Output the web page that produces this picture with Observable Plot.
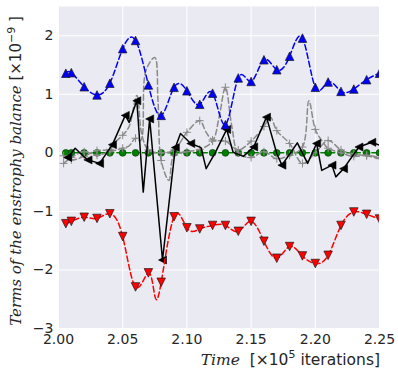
<!DOCTYPE html>
<html>
<head>
<meta charset="utf-8">
<script src="https://cdn.jsdelivr.net/npm/d3@7"></script>
<script src="https://cdn.jsdelivr.net/npm/@observablehq/plot@0.6"></script>
<style>
  body { margin: 0; background: #ffffff; }
  #chart svg { display: block; }
</style>
</head>
<body>
<div id="chart"></div>
<script>
// Sampled times (x 10^5 iterations) shared by the marker series
const times = [2.0057, 2.01, 2.02, 2.03, 2.04, 2.05, 2.06, 2.07, 2.08, 2.09, 2.10, 2.11, 2.12,
               2.13, 2.14, 2.15, 2.16, 2.17, 2.18, 2.19, 2.20, 2.21, 2.22, 2.23, 2.24, 2.25];

// Production term (blue), dissipation term (red), zero term (green)
const production = [1.36, 1.37, 1.13, 0.99, 1.19, 1.78, 1.92, 1.16, 0.64, 1.12, 1.06, 0.83, 1.02,
                    0.48, 1.28, 1.22, 1.59, 1.42, 1.65, 1.96, 1.12, 1.21, 1.05, 1.09, 1.25, 1.36];
const dissipation = [-1.21, -1.17, -1.10, -1.12, -1.04, -1.43, -2.29, -2.05, -2.21, -1.09, -1.28, -1.30, -1.24,
                     -1.24, -1.34, -1.17, -1.51, -1.80, -1.60, -1.76, -1.89, -1.75, -1.24, -1.01, -1.05, -1.13];
const zeroTerm = [0.00, 0.00, 0.00, 0.00, 0.00, 0.00, 0.00, 0.00, 0.00, 0.00, 0.00, 0.00, 0.00,
                  0.00, 0.00, 0.00, 0.00, 0.00, 0.00, 0.00, 0.00, 0.00, 0.00, 0.00, 0.00, 0.00];

// Unmarked in-between sample of the dissipation curve
const dissipationExtraT = [2.075];
const dissipationExtraV = [-2.44];

// Rate of change of enstrophy (black, solid)
const rateT = [2.0072, 2.013, 2.020, 2.023, 2.032, 2.042, 2.052, 2.055, 2.061, 2.066, 2.071, 2.081,
               2.091, 2.095, 2.103, 2.111, 2.115, 2.122, 2.131, 2.136, 2.144, 2.152, 2.162, 2.170,
               2.174, 2.181, 2.186, 2.194, 2.201, 2.205, 2.213, 2.216, 2.222, 2.234, 2.244, 2.25];
const rateV = [-0.08, 0.08, -0.07, -0.12, -0.18, 0.14, 0.64, 0.52, 0.89, -0.67, 0.58, -1.83,
               0.09, 0.33, 0.16, 0.09, -0.27, 0.00, 0.40, 0.01, -0.06, 0.10, 0.61, -0.01,
               -0.21, 0.01, 0.17, -0.18, 0.16, -0.30, -0.21, -0.41, -0.27, 0.10, 0.18, 0.13];
const rateMarked = [0, 3, 4, 5, 6, 8, 10, 11, 12, 14, 18, 21, 22, 24, 28, 30, 32, 33, 34];

// Transfer terms (grey, dashed)
const transferAT = [2.004, 2.01, 2.02, 2.03, 2.04, 2.05, 2.055, 2.06, 2.064, 2.068, 2.075, 2.0775, 2.08,
                    2.086, 2.09, 2.10, 2.11, 2.12, 2.125, 2.13, 2.135, 2.14, 2.15, 2.16, 2.17, 2.18,
                    2.19, 2.195, 2.20, 2.205, 2.21, 2.22, 2.23, 2.24, 2.25];
const transferAV = [-0.18, -0.08, 0.02, -0.04, 0.02, 0.08, 0.12, 0.25, 0.21, 1.40, 1.63, 0.89, -0.13,
                    -0.47, -0.04, 0.02, 0.06, 0.20, 0.60, 1.12, 0.45, 0.00, -0.08, 0.02, -0.10, -0.04,
                    0.10, 0.89, 0.40, 0.21, 0.08, 0.00, -0.06, -0.04, -0.08];
const transferBT = [2.004, 2.01, 2.02, 2.03, 2.04, 2.045, 2.05, 2.055, 2.061, 2.065, 2.07, 2.08, 2.09,
                    2.10, 2.11, 2.115, 2.12, 2.13, 2.14, 2.15, 2.16, 2.165, 2.17, 2.18, 2.19, 2.20,
                    2.21, 2.22, 2.23, 2.24, 2.25];
const transferBV = [-0.05, -0.12, -0.06, 0.04, 0.06, 0.20, 0.30, 0.45, 0.98, 0.30, 0.05, 0.00, 0.05,
                    0.35, 0.55, 0.35, 0.22, 0.20, 0.05, 0.20, 0.45, 0.61, 0.38, 0.16, -0.18, 0.00,
                    0.21, 0.05, -0.02, -0.05, -0.10];

// Axis ticks
const xTicks = [2.00, 2.05, 2.10, 2.15, 2.20, 2.25];
const yTicks = [-3, -2, -1, 0, 1, 2];

const rows = (ts, vs) => ts.map((t, i) => ({t, v: vs[i]}));
const onHundredth = d => Math.abs(d.t * 100 - Math.round(d.t * 100)) < 1e-6 || d.t === 2.004;

// Marker shapes with equal base and height, centred on their bounding box
const half = size => Math.sqrt(2 * size) / 2;
const triUp = {draw(c, size) { const s = half(size); c.moveTo(0, -s); c.lineTo(s, s); c.lineTo(-s, s); c.closePath(); }};
const triDown = {draw(c, size) { const s = half(size); c.moveTo(0, s); c.lineTo(-s, -s); c.lineTo(s, -s); c.closePath(); }};
const triLeft = {draw(c, size) { const s = half(size); c.moveTo(-s, 0); c.lineTo(s, -s); c.lineTo(s, s); c.closePath(); }};
const thinPlus = {draw(c, size) { const s = Math.sqrt(size / Math.PI) * 1.25; c.moveTo(-s, 0); c.lineTo(s, 0); c.moveTo(0, -s); c.lineTo(0, s); }};

const dash = "5.5,3";
const prod = rows(times, production);
const diss = rows(times, dissipation);
const dissLine = diss.concat(rows(dissipationExtraT, dissipationExtraV)).sort((a, b) => a.t - b.t);
const zero = rows(times, zeroTerm);
const rate = rows(rateT, rateV);
const trA = rows(transferAT, transferAV);
const trB = rows(transferBT, transferBV);

const chart = Plot.plot({
  width: 398,
  height: 368,
  marginLeft: 58,
  marginRight: 19,
  marginTop: 6,
  marginBottom: 40,
  x: {domain: [2.0, 2.25]},
  y: {domain: [-3, 2.5]},
  style: {fontFamily: "DejaVu Sans", fontSize: "14px", color: "#262626", background: "#ffffff"},
  marks: [
    Plot.frame({fill: "#EAEAF2", stroke: "none"}),
    Plot.gridX(xTicks, {stroke: "#ffffff", strokeOpacity: 1, strokeWidth: 1}),
    Plot.gridY(yTicks, {stroke: "#ffffff", strokeOpacity: 1, strokeWidth: 1}),
    Plot.axisX(xTicks, {tickSize: 0, tickPadding: 6, tickFormat: d => d.toFixed(2), label: null, fontSize: 14}),
    Plot.axisY(yTicks, {tickSize: 0, tickPadding: 5, tickFormat: d3.format("d"), label: null, fontSize: 14}),

    // zero term
    Plot.line(zero, {x: "t", y: "v", stroke: "#008000", strokeWidth: 1.5, strokeDasharray: dash, clip: true}),
    Plot.dot(zero, {x: "t", y: "v", r: 3.4, fill: "#008000", stroke: "#0b3d0b", strokeWidth: 0.7, clip: true}),

    // transfer terms
    Plot.line(trB, {x: "t", y: "v", curve: "catmull-rom", stroke: "#8a8a8a", strokeWidth: 1.5, strokeDasharray: dash, clip: true}),
    Plot.dot(trB.filter(onHundredth), {x: "t", y: "v", symbol: thinPlus, r: 3.2, fill: "none", stroke: "#8a8a8a", strokeWidth: 1, clip: true}),
    Plot.line(trA, {x: "t", y: "v", curve: "catmull-rom", stroke: "#8a8a8a", strokeWidth: 1.5, strokeDasharray: dash, clip: true}),
    Plot.dot(trA.filter(onHundredth), {x: "t", y: "v", symbol: thinPlus, r: 3.2, fill: "none", stroke: "#8a8a8a", strokeWidth: 1, clip: true}),

    // rate of change
    Plot.line(rate, {x: "t", y: "v", stroke: "#000000", strokeWidth: 1.5, clip: true}),
    Plot.dot(rateMarked.map(i => rate[i]), {x: "t", y: "v", symbol: triLeft, r: 3.2, fill: "#000000", stroke: "#000000", strokeWidth: 0.6, clip: true}),

    // production
    Plot.line(prod, {x: "t", y: "v", curve: "natural", stroke: "#0000ff", strokeWidth: 1.5, strokeDasharray: dash, clip: true}),
    Plot.dot(prod, {x: "t", y: "v", symbol: triUp, r: 3.4, fill: "#0000ff", stroke: "#1a1a1a", strokeWidth: 0.7, clip: true}),

    // dissipation
    Plot.line(dissLine, {x: "t", y: "v", curve: "natural", stroke: "#ff0000", strokeWidth: 1.5, strokeDasharray: dash, clip: true}),
    Plot.dot(diss, {x: "t", y: "v", symbol: triDown, r: 3.4, fill: "#ff0000", stroke: "#1a1a1a", strokeWidth: 0.7, clip: true})
  ]
});

document.getElementById("chart").append(chart);

// Axis titles: italic serif words followed by an upright unit with a power of ten
const svg = d3.select(chart);
const yTitle = svg.append("text")
  .attr("transform", "translate(21,171) rotate(-90)")
  .attr("text-anchor", "middle")
  .attr("fill", "#262626")
  .attr("font-size", "15px");
yTitle.append("tspan").attr("font-family", "DejaVu Serif").attr("font-style", "italic").text("Terms of the enstrophy balance");
yTitle.append("tspan").attr("font-family", "DejaVu Sans").text(" [×10");
yTitle.append("tspan").attr("font-family", "DejaVu Sans").attr("font-size", "11px").attr("dy", "-6").text("−9");
yTitle.append("tspan").attr("font-family", "DejaVu Sans").attr("dy", "6").text(" ]");

const xTitle = svg.append("text")
  .attr("x", 380)
  .attr("y", 365)
  .attr("text-anchor", "end")
  .attr("fill", "#262626")
  .attr("font-size", "15.5px");
xTitle.append("tspan").attr("font-family", "DejaVu Serif").attr("font-style", "italic").text("Time");
xTitle.append("tspan").attr("font-family", "DejaVu Sans").text("  [×10");
xTitle.append("tspan").attr("font-family", "DejaVu Sans").attr("font-size", "11px").attr("dy", "-7").text("5");
xTitle.append("tspan").attr("font-family", "DejaVu Sans").attr("dy", "7").text(" iterations]");
</script>
</body>
</html>
